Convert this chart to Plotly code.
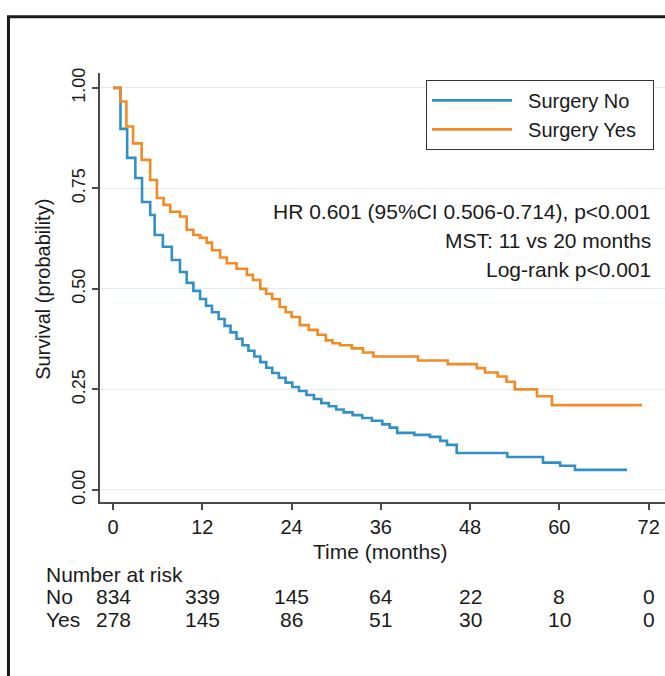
import plotly.graph_objects as go

# ---- data ----
time_no = [0, 1.0, 1.9, 3.0, 3.9, 5.0, 5.6, 6.7, 7.9, 9.0,
           9.9, 10.8, 11.7, 12.5, 13.3, 14.2, 15.0, 15.8, 16.6, 17.4,
           18.2, 19.0, 19.8, 20.6, 21.4, 22.3, 23.2, 24.1, 25.0, 26.0,
           27.0, 28.0, 29.0, 30.0, 31.0, 32.2, 33.5, 34.8, 36.2, 37.2,
           38.2, 40.5, 42.6, 44.0, 44.9, 46.2, 53.0, 57.8, 60.1, 62.1,
           69.1]
surv_no = [1.0, 0.898, 0.826, 0.776, 0.716, 0.684, 0.634, 0.605, 0.572, 0.542,
           0.515, 0.495, 0.475, 0.458, 0.442, 0.425, 0.408, 0.392, 0.376, 0.36,
           0.346, 0.332, 0.318, 0.304, 0.291, 0.279, 0.267, 0.256, 0.246, 0.236,
           0.226, 0.216, 0.208, 0.200, 0.193, 0.186, 0.179, 0.172, 0.163, 0.155,
           0.142, 0.137, 0.132, 0.122, 0.112, 0.092, 0.082, 0.068, 0.06, 0.05,
           0.05]

time_yes = [0, 1.0, 1.8, 2.7, 3.85, 5.0, 5.9, 6.8, 7.7, 9.0,
            9.9, 10.8, 11.7, 12.6, 13.3, 14.4, 15.3, 16.6, 18.0, 18.8,
            19.8, 20.6, 21.4, 22.4, 23.2, 24.0, 25.1, 26.3, 27.5, 28.6,
            29.5, 30.5, 32.1, 33.6, 35.0, 41.0, 45.0, 48.9, 50.0, 51.7,
            52.9, 54.0, 57.0, 59.0, 71.1]
surv_yes = [1.0, 0.966, 0.904, 0.862, 0.821, 0.771, 0.726, 0.709, 0.692, 0.680,
            0.647, 0.634, 0.627, 0.615, 0.596, 0.578, 0.564, 0.550, 0.535, 0.522,
            0.500, 0.488, 0.475, 0.455, 0.442, 0.430, 0.410, 0.398, 0.386, 0.372,
            0.365, 0.360, 0.352, 0.342, 0.332, 0.322, 0.313, 0.303, 0.292, 0.282,
            0.269, 0.250, 0.233, 0.211, 0.211]

x_ticks = [0, 12, 24, 36, 48, 60, 72]
y_ticks = [0.0, 0.25, 0.5, 0.75, 1.0]
y_tick_labels = ["0.00", "0.25", "0.50", "0.75", "1.00"]
risk_no = [834, 339, 145, 64, 22, 8, 0]
risk_yes = [278, 145, 86, 51, 30, 10, 0]
stats_lines = ["HR 0.601 (95%CI 0.506-0.714), p<0.001",
               "MST: 11 vs 20 months",
               "Log-rank p<0.001"]

BLUE = "#3191c6"
ORANGE = "#f28a25"
FONT = "Liberation Sans, Arial, sans-serif"
TXT = "#1a1a1a"
AX = "#4a4a4a"
FS = 21
NB = "\u00a0"

fig = go.Figure()
fig.add_trace(go.Scatter(x=time_no, y=surv_no, mode="lines",
                         name=NB * 2 + "Surgery No",
                         line=dict(color=BLUE, width=2.6, shape="hv")))
fig.add_trace(go.Scatter(x=time_yes, y=surv_yes, mode="lines",
                         name=NB * 2 + "Surgery Yes" + NB * 2,
                         line=dict(color=ORANGE, width=2.6, shape="hv")))

fig.update_layout(
    width=665, height=676,
    margin=dict(l=100, r=0, t=73, b=174),
    paper_bgcolor="white", plot_bgcolor="white",
    font=dict(family=FONT, size=FS, color=TXT),
    showlegend=True,
    legend=dict(x=0.577, y=0.984, xanchor="left", yanchor="top",
                bordercolor="#333333", borderwidth=1, bgcolor="white",
                font=dict(family=FONT, size=20, color=TXT),
                itemwidth=80, tracegroupgap=0),
)

fig.update_xaxes(range=[-1.75, 74.2], tickvals=x_ticks,
                 showline=True, linecolor=AX, linewidth=1.6,
                 ticks="outside", ticklen=6, tickwidth=1.6, tickcolor=AX,
                 showgrid=False, zeroline=False,
                 tickfont=dict(family=FONT, size=20, color=TXT))
fig.update_yaxes(range=[-0.03, 1.037], tickvals=y_ticks, ticktext=y_tick_labels,
                 tickangle=-90,
                 showline=True, linecolor=AX, linewidth=1.6,
                 ticks="outside", ticklen=6, tickwidth=1.6, tickcolor=AX,
                 showgrid=True, gridcolor="#e2edf3", gridwidth=1.2,
                 zeroline=False,
                 tickfont=dict(family=FONT, size=18, color=TXT))

ann = []
# axis titles
ann.append(dict(x=36, y=-0.115, xref="x", yref="paper", text="Time (months)",
                showarrow=False, xanchor="center", yanchor="middle",
                font=dict(family=FONT, size=FS, color=TXT)))
ann.append(dict(x=-0.101, y=0.5, xref="paper", yref="y", text="Survival (probability)",
                showarrow=False, textangle=-90, xanchor="center", yanchor="middle",
                font=dict(family=FONT, size=20, color=TXT)))
# stats text
for line, yp in zip(stats_lines, [0.677, 0.609, 0.543]):
    ann.append(dict(x=0.978, y=yp, xref="paper", yref="paper", text=line,
                    showarrow=False, xanchor="right", yanchor="middle",
                    font=dict(family=FONT, size=FS, color=TXT)))
# number at risk table
for label, yp in [("Number at risk", -0.168), ("No", -0.221), ("Yes", -0.273)]:
    ann.append(dict(x=-0.099, y=yp, xref="paper", yref="paper", text=label,
                    showarrow=False, xanchor="left", yanchor="middle",
                    font=dict(family=FONT, size=FS, color=TXT)))
for t, n1, n2 in zip(x_ticks, risk_no, risk_yes):
    ann.append(dict(x=t, y=-0.221, xref="x", yref="paper", text=str(n1),
                    showarrow=False, xanchor="center", yanchor="middle",
                    font=dict(family=FONT, size=FS, color=TXT)))
    ann.append(dict(x=t, y=-0.273, xref="x", yref="paper", text=str(n2),
                    showarrow=False, xanchor="center", yanchor="middle",
                    font=dict(family=FONT, size=FS, color=TXT)))
fig.update_layout(annotations=ann)

# outer frame (extends beyond the right and bottom window edges)
fig.add_shape(type="rect", xref="paper", yref="paper",
              x0=-0.162, y0=-0.6, x1=1.1, y1=1.131,
              line=dict(color="#1a1a1a", width=3), fillcolor="rgba(0,0,0,0)",
              layer="above")

fig.write_html("out.html")
